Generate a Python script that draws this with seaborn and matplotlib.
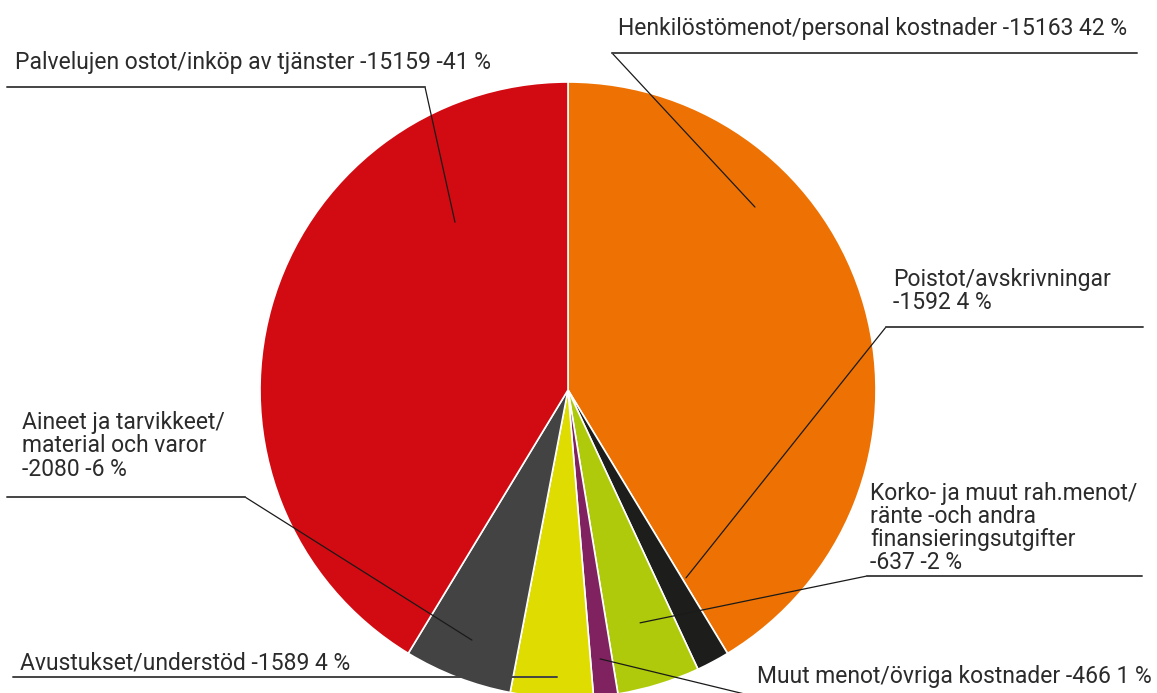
import matplotlib
matplotlib.use("Agg")
import matplotlib.pyplot as plt
import seaborn as sns
import numpy as np
from matplotlib.lines import Line2D

# ---- data ----
categories = [
    "Henkilöstömenot/personal kostnader",
    "Korko- ja muut rah.menot/ränte -och andra finansieringsutgifter",
    "Poistot/avskrivningar",
    "Muut menot/övriga kostnader",
    "Avustukset/understöd",
    "Aineet ja tarvikkeet/material och varor",
    "Palvelujen ostot/inköp av tjänster",
]
values = [15163, 637, 1592, 466, 1589, 2080, 15159]
colors = ["#EE7203", "#1D1D1B", "#AFCA0B", "#80225F", "#DEDC00", "#434343", "#D20A11"]

label_texts = [
    "Henkilöstömenot/personal kostnader -15163 42 %",
    "Korko- ja muut rah.menot/\nränte -och andra\nfinansieringsutgifter\n-637 -2 %",
    "Poistot/avskrivningar\n-1592 4 %",
    "Muut menot/övriga kostnader -466 1 %",
    "Avustukset/understöd -1589 4 %",
    "Aineet ja tarvikkeet/\nmaterial och varor\n-2080 -6 %",
    "Palvelujen ostot/inköp av tjänster -15159 -41 %",
]

W, H = 1157, 693

sns.set_theme(style="white")
plt.rcParams["font.family"] = ["Roboto", "DejaVu Sans"]

fig = plt.figure(figsize=(W / 100, H / 100), dpi=100)
fig.patch.set_facecolor("white")

# pie axes: centre (568,390) px, radius 308 px
cx, cy, R = 568, 390, 308
ax = fig.add_axes([(cx - R) / W, (H - cy - R) / H, 2 * R / W, 2 * R / H])
wedges, _ = ax.pie(values, colors=colors, startangle=90, counterclock=False,
                   radius=1.0, wedgeprops=dict(edgecolor="white", linewidth=1.2))
ax.set_xlim(-1, 1)
ax.set_ylim(-1, 1)
ax.set_aspect("equal")
ax.axis("off")

def pie_to_px(x, y):
    return cx + x * R, cy - y * R

def px_to_fig(x, y):
    return x / W, 1 - y / H

# label layout: text anchor (px), anchor inside pie (pie units), elbow (px), line end x (px)
layout = {
    0: dict(text=(618, 28), anchor=(0.607, 0.594), elbow=(612, 53), end=1137),
    1: dict(text=(870, 528), anchor=(0.234, -0.756), elbow=(867, 576), end=1142),
    2: dict(text=(893, 291), anchor=(0.383, -0.610), elbow=(886, 327), end=1143),
    3: dict(text=(757, 677), anchor=(0.104, -0.873), elbow=(761, 698), end=1150),
    4: dict(text=(20, 663), anchor=(-0.036, -0.932), elbow=None, end=13),
    5: dict(text=(22, 446), anchor=(-0.312, -0.812), elbow=(245, 497), end=7),
    6: dict(text=(15, 63), anchor=(-0.367, 0.545), elbow=(425, 87), end=7),
}

for i, txt in enumerate(label_texts):
    L = layout[i]
    tx, ty = px_to_fig(*L["text"])
    fig.text(tx, ty, txt, ha="left", va="center", fontsize=16.5, color="#2b2b2b",
             linespacing=1.0)
    ax_px = pie_to_px(*L["anchor"])
    if L["elbow"] is not None:
        ex, ey = L["elbow"]
        p1 = px_to_fig(*ax_px)
        p2 = px_to_fig(ex, ey)
        fig.add_artist(Line2D([p1[0], p2[0]], [p1[1], p2[1]], color="#1a1a1a", lw=0.9))
        p3 = px_to_fig(L["end"], ey)
        fig.add_artist(Line2D([p2[0], p3[0]], [p2[1], p3[1]], color="#444444", lw=1.4))
    else:
        p1 = px_to_fig(*ax_px)
        p3 = px_to_fig(L["end"], ax_px[1])
        fig.add_artist(Line2D([p1[0], p3[0]], [p1[1], p3[1]], color="#444444", lw=1.4))

fig.savefig("out.png", dpi=100, facecolor="white")
